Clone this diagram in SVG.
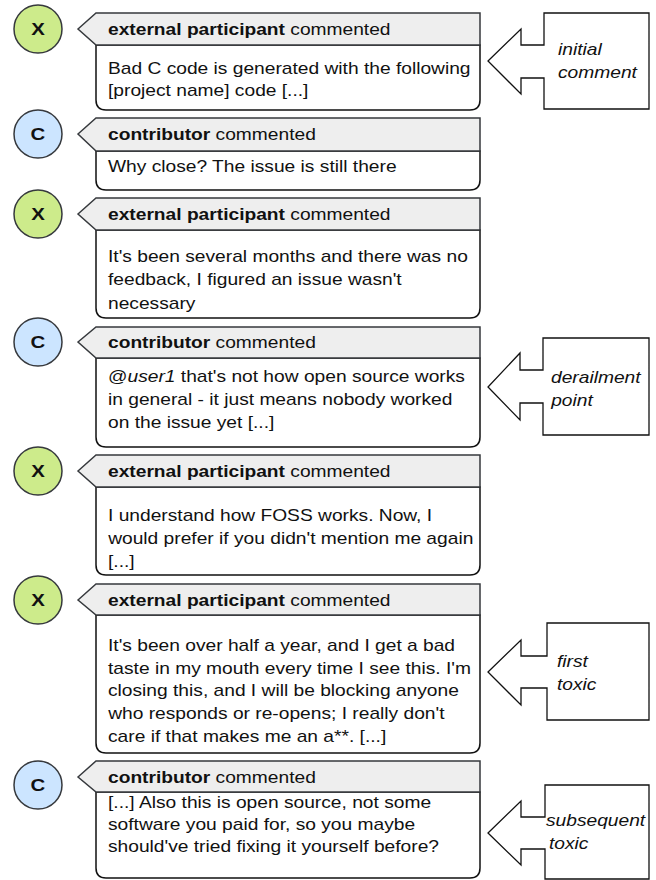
<svg xmlns="http://www.w3.org/2000/svg" width="656" height="880" viewBox="0 0 656 880">
<style>
text{font-family:"Liberation Sans",Arial,sans-serif;font-size:16px;fill:#111;transform-box:fill-box;transform-origin:0% 50%;transform:scaleX(1.2)}
.av{stroke:#36393d;stroke-width:1.5}
.x{fill:#cdeb8b}
.c{fill:#cce5ff}
.lt{font-weight:bold;font-size:17px;text-anchor:middle;transform-origin:50% 50%}
.hd{fill:#eeeeee;stroke:#36393d;stroke-width:1.5}
.bd{fill:#fff;stroke:#111;stroke-width:1.5}
.b{font-weight:bold}
.co{fill:#fff;stroke:#111;stroke-width:1.3}
.it{font-style:italic}
</style>
<g id="comment1">
<circle class="av x" cx="38" cy="29" r="24"/><text class="lt" x="38" y="35">X</text>
<path class="bd" d="M96,45 H480 V100 Q480,110 470,110 H106 Q96,110 96,100 Z"/>
<path class="hd" d="M78,29 L96,13 H480 V45 H96 Z"/>
<text x="108" y="35"><tspan class="b">external participant</tspan> commented</text>
<text x="108" y="74">Bad C code is generated with the following</text>
<text x="108" y="96">[project name] code [...]</text>
</g>
<g id="comment2">
<circle class="av c" cx="38" cy="134" r="24"/><text class="lt" x="38" y="140">C</text>
<path class="bd" d="M96,151 H480 V180 Q480,190 470,190 H106 Q96,190 96,180 Z"/>
<path class="hd" d="M78,134 L96,118 H480 V151 H96 Z"/>
<text x="108" y="140"><tspan class="b">contributor</tspan> commented</text>
<text x="108" y="172">Why close? The issue is still there</text>
</g>
<g id="comment3">
<circle class="av x" cx="38" cy="214" r="24"/><text class="lt" x="38" y="220">X</text>
<path class="bd" d="M96,230 H480 V308 Q480,318 470,318 H106 Q96,318 96,308 Z"/>
<path class="hd" d="M78,214 L96,198 H480 V230 H96 Z"/>
<text x="108" y="220"><tspan class="b">external participant</tspan> commented</text>
<text x="108" y="262">It's been several months and there was no</text>
<text x="108" y="285.5">feedback, I figured an issue wasn't</text>
<text x="108" y="309">necessary</text>
</g>
<g id="comment4">
<circle class="av c" cx="38" cy="342" r="24"/><text class="lt" x="38" y="348">C</text>
<path class="bd" d="M96,358 H480 V437 Q480,447 470,447 H106 Q96,447 96,437 Z"/>
<path class="hd" d="M78,342 L96,327 H480 V358 H96 Z"/>
<text x="108" y="348"><tspan class="b">contributor</tspan> commented</text>
<text x="108" y="382">@<tspan class="it">user1</tspan> that's not how open source works</text>
<text x="108" y="405">in general - it just means nobody worked</text>
<text x="108" y="428">on the issue yet [...]</text>
</g>
<g id="comment5">
<circle class="av x" cx="38" cy="471" r="24"/><text class="lt" x="38" y="477">X</text>
<path class="bd" d="M96,487 H480 V565 Q480,575 470,575 H106 Q96,575 96,565 Z"/>
<path class="hd" d="M78,471 L96,455 H480 V487 H96 Z"/>
<text x="108" y="477"><tspan class="b">external participant</tspan> commented</text>
<text x="108" y="521">I understand how FOSS works. Now, I</text>
<text x="108" y="544">would prefer if you didn't mention me again</text>
<text x="108" y="567">[...]</text>
</g>
<g id="comment6">
<circle class="av x" cx="38" cy="600" r="24"/><text class="lt" x="38" y="606">X</text>
<path class="bd" d="M96,615 H480 V743 Q480,753 470,753 H106 Q96,753 96,743 Z"/>
<path class="hd" d="M78,600 L96,584 H480 V615 H96 Z"/>
<text x="108" y="606"><tspan class="b">external participant</tspan> commented</text>
<text x="108" y="651">It's been over half a year, and I get a bad</text>
<text x="108" y="674">taste in my mouth every time I see this. I'm</text>
<text x="108" y="696">closing this, and I will be blocking anyone</text>
<text x="108" y="719">who responds or re-opens; I really don't</text>
<text x="108" y="742">care if that makes me an a**. [...]</text>
</g>
<g id="comment7">
<circle class="av c" cx="38" cy="785" r="24"/><text class="lt" x="38" y="791">C</text>
<path class="bd" d="M96,792 H480 V868 Q480,878 470,878 H106 Q96,878 96,868 Z"/>
<path class="hd" d="M78,777 L96,761 H480 V792 H96 Z"/>
<text x="108" y="783"><tspan class="b">contributor</tspan> commented</text>
<text x="108" y="808">[...] Also this is open source, not some</text>
<text x="108" y="830">software you paid for, so you maybe</text>
<text x="108" y="852">should've tried fixing it yourself before?</text>
</g>
<g id="connectors">
<g id="callout-initial">
<path class="co" d="M544,13 H649 V109 H544 V78 H521 V94 L488,61 L521,29 V45 H544 Z"/>
<text class="it" x="558" y="55">initial</text>
<text class="it" x="558" y="78">comment</text>
</g>
<g id="callout-derailment">
<path class="co" d="M543,338 H649 V435 H543 V403 H520 V420 L488,387 L520,353 V370 H543 Z"/>
<text class="it" x="551" y="383">derailment</text>
<text class="it" x="551" y="406">point</text>
</g>
<g id="callout-first">
<path class="co" d="M547,623 H649 V720 H547 V688 H521 V705 L488,672 L521,640 V656 H547 Z"/>
<text class="it" x="557" y="667">first</text>
<text class="it" x="557" y="690">toxic</text>
</g>
<g id="callout-subsequent">
<path class="co" d="M545,785 H649 V879 H545 V849 H521 V865 L488,833 L521,801 V817 H545 Z"/>
<text class="it" x="546" y="826">subsequent</text>
<text class="it" x="549" y="849">toxic</text>
</g>
</g>
</svg>
